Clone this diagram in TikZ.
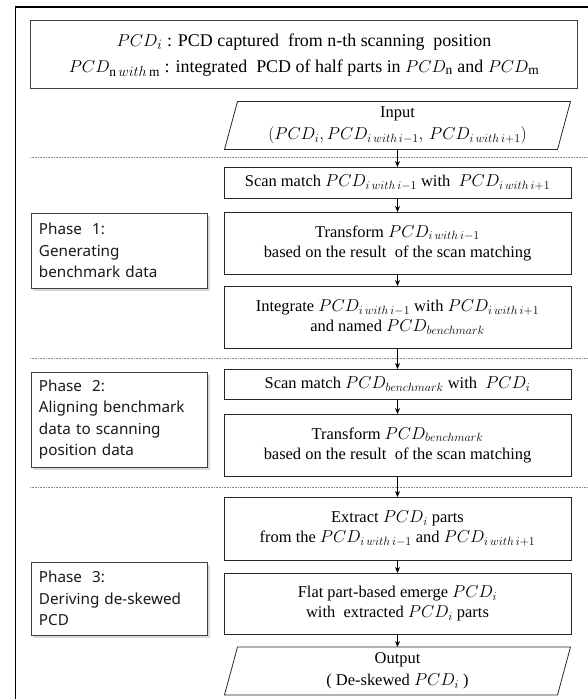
\documentclass[tikz,border=0pt]{standalone}
\usepackage{fontspec}
\setmainfont{Liberation Serif}
\newfontfamily\phasefont{Noto Sans}
\usetikzlibrary{arrows.meta,shadows,calc}
\DeclareMathSizes{16.5}{17.5}{12.8}{9.5}
\DeclareMathSizes{18}{18.5}{13.5}{10}
\newcommand{\PCDw}[1]{PCD_{i\,with\,i#1}}
\begin{document}
\begin{tikzpicture}[x=1bp,y=-1bp,
  every node/.style={inner sep=0pt, outer sep=0pt},
  boxline/.style={draw=black!85, line width=0.8bp},
  mainbox/.style={boxline, minimum width=347bp, align=center, font=\fontsize{16.5}{20}\selectfont},
  iobox/.style={minimum width=333bp, minimum height=48bp, align=center, font=\fontsize{16.5}{22}\selectfont},
  topbox/.style={draw=black!75, line width=1bp, minimum width=546bp, minimum height=68bp, align=center, font=\fontsize{18}{26}\selectfont},
  phasebox/.style={draw=black!75, line width=0.8bp, fill=white, text width=160bp, inner xsep=8bp, align=left,
    font=\phasefont\fontsize{15.3}{21.5}\selectfont, text=black!90,
    drop shadow={opacity=0.3, shadow xshift=2.5bp, shadow yshift=-2.5bp}},
  arr/.style={-{Stealth[length=6bp,width=5bp]}, line width=0.7bp, black},
  sep/.style={draw=black!45, line width=0.7bp, dash pattern=on 0.8bp off 0.8bp},
  frame/.style={line width=1.2bp, black}
]
\useasboundingbox (0,0) rectangle (588,699);

% outer frame (open at right and bottom)
\draw[frame] (15.5,699) -- (15.5,7) -- (588,7);

% legend
\node[topbox] (legend) at (304,55)
  {$PCD_i$ : PCD captured \ from n-th scanning \ position\\
   $PCD_{\mathrm{n}\,with\,\mathrm{m}}$ : integrated \ PCD of half parts in $PCD_{\mathrm{n}}$ and $PCD_{\mathrm{m}}$};

% separators
\draw[sep] (30,157) -- (588,157);
\draw[sep] (30,358) -- (588,358);
\draw[sep] (30,487) -- (588,487);

% input
\node[iobox] (inp) at (397.5,125.5)
  {Input\\$(PCD_i,\PCDw{-1},\, \PCDw{+1})$};
\draw[boxline] ([xshift=-6.5bp]inp.south west) -- ([xshift=6.5bp]inp.north west)
  -- ([xshift=6.5bp]inp.north east) -- ([xshift=-6.5bp]inp.south east) -- cycle;

% phase 1
\node[mainbox, minimum height=31bp] (scan1) at (397.5,182.5)
  {Scan match $\PCDw{-1}$ with \ $\PCDw{+1}$};
\node[mainbox, minimum height=62bp] (trans1) at (397.5,243)
  {Transform $\PCDw{-1}$\\based on the result \ of the scan matching};
\node[mainbox, minimum height=62bp] (integ) at (397.5,317)
  {Integrate $\PCDw{-1}$ with $\PCDw{+1}$\\and named $PCD_{benchmark}$};

% phase 2
\node[mainbox, minimum height=30bp] (scan2) at (397.5,384)
  {Scan match $PCD_{benchmark}$ with \ $PCD_i$};
\node[mainbox, minimum height=62bp] (trans2) at (397.5,445)
  {Transform $PCD_{benchmark}$\\based on the result \ of the scan matching};

% phase 3
\node[mainbox, minimum height=63bp] (extract) at (397.5,528.5)
  {Extract $PCD_i$ parts\\from the $\PCDw{-1}$ and $\PCDw{+1}$};
\node[mainbox, minimum height=61bp] (flat) at (397.5,603.5)
  {Flat part-based emerge $PCD_i$\\with \ extracted $PCD_i$ parts};
\node[iobox] (out) at (397.5,671)
  {Output\\( De-skewed $PCD_i$ )};
\draw[boxline] ([xshift=-6.5bp]out.south west) -- ([xshift=6.5bp]out.north west)
  -- ([xshift=6.5bp]out.north east) -- ([xshift=-6.5bp]out.south east) -- cycle;

% arrows
\draw[arr] (inp.south) -- (scan1.north);
\draw[arr] (scan1.south) -- (trans1.north);
\draw[arr] (trans1.south) -- (integ.north);
\draw[arr] (integ.south) -- (scan2.north);
\draw[arr] (scan2.south) -- (trans2.north);
\draw[arr] (trans2.south) -- (extract.north);
\draw[arr] (extract.south) -- (flat.north);
\draw[arr] (flat.south) -- (out.north);

% phase labels
\node[phasebox, minimum height=75bp] (ph1) at (119,250.5)
  {Phase \ 1:\\Generating\\benchmark~data};
\node[phasebox, minimum height=95bp] (ph2) at (119,419.5)
  {Phase \ 2:\\Aligning~benchmark\\data to scanning\\position~data};
\node[phasebox, minimum height=73bp] (ph3) at (119,598.5)
  {Phase \ 3:\\Deriving~de-skewed\\PCD};
\end{tikzpicture}
\end{document}
